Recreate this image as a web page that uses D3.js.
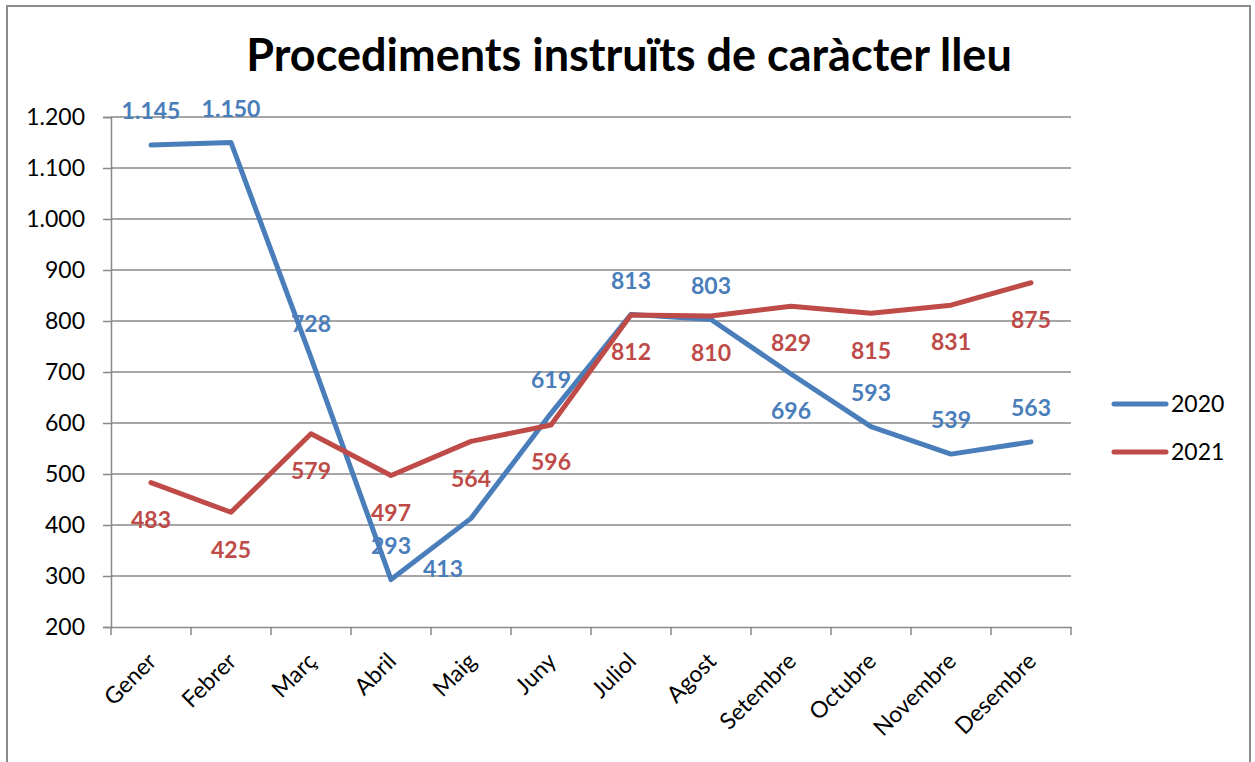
<!DOCTYPE html>
<html>
<head>
<meta charset="utf-8">
<script src="https://cdn.jsdelivr.net/npm/d3@7"></script>
<style>
  body { margin: 0; background: #fff; }
  text { font-family: Lato, "Open Sans", sans-serif; }
</style>
</head>
<body>
<div id="chart"></div>
<script>
var months = ["Gener", "Febrer", "Març", "Abril", "Maig", "Juny", "Juliol",
              "Agost", "Setembre", "Octubre", "Novembre", "Desembre"];
var values2020 = [1145, 1150, 728, 293, 413, 619, 813, 803, 696, 593, 539, 563];
var values2021 = [483, 425, 579, 497, 564, 596, 812, 810, 829, 815, 831, 875];
var seriesNames = ["2020", "2021"];
var yTicks = [200, 300, 400, 500, 600, 700, 800, 900, 1000, 1100, 1200];

// where each data label sits relative to its point
var labelSide2020 = ["up", "up", "up", "up", "low", "up", "up", "up", "down", "up", "up", "up"];
var labelSide2021 = ["down", "down", "down", "down", "down", "down", "down", "down", "down", "down", "down", "down"];

var W = 1255, H = 762;
var plot = { left: 111, right: 1071, top: 117, bottom: 627 };
var colors = ["#4a7ebb", "#be4b48"];
var gridColor = "#898989";

var svg = d3.select("#chart").append("svg")
    .attr("width", W).attr("height", H);

// chart frame
svg.append("path")
    .attr("d", "M7," + H + "V6H1250V" + H)
    .attr("fill", "none")
    .attr("stroke", "#8c8c8c")
    .attr("stroke-width", 2);

var x = d3.scaleBand().domain(months).range([plot.left, plot.right]);
var y = d3.scaleLinear().domain([200, 1200]).range([plot.bottom, plot.top]);
var cx = d => x(d) + x.bandwidth() / 2;

var fmt = d3.formatLocale({ decimal: ",", thousands: ".", grouping: [3], currency: ["", "€"] }).format(",d");

// title
svg.append("text")
    .attr("x", 629).attr("y", 71)
    .attr("text-anchor", "middle")
    .attr("font-size", 45).attr("font-weight", "bold")
    .attr("fill", "#000")
    .text("Procediments instruïts de caràcter lleu");

// gridlines
svg.append("g").selectAll("line")
    .data(yTicks.slice(1)).enter().append("line")
    .attr("x1", plot.left).attr("x2", plot.right)
    .attr("y1", d => y(d)).attr("y2", d => y(d))
    .attr("stroke", gridColor).attr("stroke-width", 1.5);

// y axis
var yAxis = svg.append("g")
    .attr("transform", "translate(" + plot.left + ",0)")
    .call(d3.axisLeft(y).tickValues(yTicks).tickFormat(fmt).tickSize(8).tickPadding(18));
yAxis.select(".domain").attr("stroke", gridColor).attr("stroke-width", 1.5);
yAxis.selectAll(".tick line").attr("stroke", gridColor).attr("stroke-width", 1.5);
yAxis.selectAll("text").attr("font-size", 23).attr("fill", "#000")
    .style("font-family", "Lato, sans-serif");

// x axis
var xAxis = svg.append("g")
    .attr("transform", "translate(0," + plot.bottom + ")")
    .call(d3.axisBottom(x).tickSize(0).tickFormat(""));
xAxis.select(".domain").attr("stroke", gridColor).attr("stroke-width", 1.5);
xAxis.selectAll(".tick").remove();
xAxis.selectAll(".bound")
    .data(d3.range(months.length + 1)).enter().append("line")
    .attr("x1", i => plot.left + i * x.bandwidth())
    .attr("x2", i => plot.left + i * x.bandwidth())
    .attr("y1", 0).attr("y2", 8)
    .attr("stroke", gridColor).attr("stroke-width", 1.5);

svg.append("g").selectAll("text")
    .data(months).enter().append("text")
    .attr("transform", d => "translate(" + (cx(d) + 1) + "," + (plot.bottom + 30) + ") rotate(-45)")
    .attr("text-anchor", "end")
    .attr("dy", "0.35em")
    .attr("font-size", 23)
    .attr("fill", "#000")
    .text(d => d);

// lines
var line = d3.line()
    .x((d, i) => cx(months[i]))
    .y(d => y(d));

var series = [values2020, values2021];
svg.append("g").selectAll("path")
    .data(series).enter().append("path")
    .attr("d", line)
    .attr("fill", "none")
    .attr("stroke", (d, i) => colors[i])
    .attr("stroke-width", 5)
    .attr("stroke-linejoin", "round")
    .attr("stroke-linecap", "round");

// data labels
var sides = [labelSide2020, labelSide2021];
var labelShift = { up: [0, -34], down: [0, 37], low: [-28, 50] };
series.forEach(function (vals, s) {
    svg.append("g").selectAll("text")
        .data(vals).enter().append("text")
        .attr("x", (d, i) => cx(months[i]) + labelShift[sides[s][i]][0])
        .attr("y", (d, i) => y(d) + labelShift[sides[s][i]][1])
        .attr("dy", "0.36em")
        .attr("text-anchor", "middle")
        .attr("font-size", 23).attr("font-weight", "bold")
        .attr("fill", colors[s])
        .text(d => fmt(d));
});

// legend
var legend = svg.append("g").selectAll("g")
    .data(seriesNames).enter().append("g")
    .attr("transform", (d, i) => "translate(1114," + (404 + i * 48) + ")");
legend.append("line")
    .attr("x1", 0).attr("x2", 52)
    .attr("stroke", (d, i) => colors[i])
    .attr("stroke-width", 5)
    .attr("stroke-linecap", "round");
legend.append("text")
    .attr("x", 57).attr("dy", "0.35em")
    .attr("font-size", 23).attr("fill", "#000")
    .text(d => d);
</script>
</body>
</html>
